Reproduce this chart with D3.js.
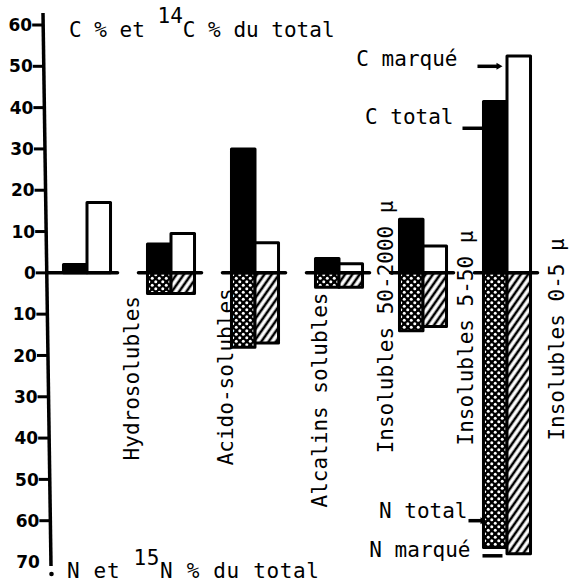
<!DOCTYPE html>
<html><head><meta charset="utf-8">
<script src="https://cdn.jsdelivr.net/npm/d3@7"></script>
<style>
body{margin:0;background:#fff}
text{font-family:"DejaVu Sans Mono",monospace;white-space:pre}
</style>
</head><body><svg id="c" width="570" height="585"></svg>
<script>
// ---- data ----
const categories = ["Hydrosolubles","Acido-solubles","Alcalins solubles","Insolubles 50-2000 µ","Insolubles 5-50 µ","Insolubles 0-5 µ"];
const cTotal  = [2, 7, 30, 3.5, 13, 41.5];   // C total (%)
const cMarque = [17, 9.5, 7.3, 2.2, 6.5, 52.5]; // 14C marqué (%)
const nTotal  = [0, 5, 18, 3.5, 14, 66.5];    // N total (%)
const nMarque = [0, 5, 17, 3.5, 13, 68];      // 15N marqué (%)
const tickValues = [60,50,40,30,20,10,0,-10,-20,-30,-40,-50,-60,-70];

// ---- layout (pixel / axis-unit placement of labels) ----
const labelDx = [28, 38, 48, 30, 26, 33];
const labelBottom = [-45.4, -46.6, -56.8, -43.7, -41.8, -40.6];

const svg = d3.select("#c");
const y = d3.scaleLinear().domain([-70, 60]).range([562, 25]);
const x = d3.scaleBand().domain(categories).range([45, 549]).paddingInner(0.44).paddingOuter(0.22);
const xs = d3.scaleBand().domain(["a","b"]).range([0, x.bandwidth()]);
const axisX = py => 43 + (py - 13) / (566 - 13) * 8;

// patterns
const defs = svg.append("defs");
const pd = defs.append("pattern").attr("id","dots").attr("patternUnits","userSpaceOnUse").attr("width",7).attr("height",7);
pd.append("rect").attr("width",7).attr("height",7).attr("fill","#000");
pd.append("circle").attr("cx",1.75).attr("cy",1.75).attr("r",1.5).attr("fill","#fff");
pd.append("circle").attr("cx",5.25).attr("cy",5.25).attr("r",1.5).attr("fill","#fff");
const ph = defs.append("pattern").attr("id","hatch").attr("patternUnits","userSpaceOnUse").attr("width",6).attr("height",6).attr("patternTransform","rotate(35)");
ph.append("rect").attr("width",6).attr("height",6).attr("fill","#fff");
ph.append("line").attr("x1",2).attr("y1",-1).attr("x2",2).attr("y2",7).attr("stroke","#000").attr("stroke-width",2.6);

// bars
const bars = [];
categories.forEach((c, i) => {
  bars.push({c, sub:"a", v: cTotal[i], fill:"#000"});
  bars.push({c, sub:"b", v: cMarque[i], fill:"#fff"});
  if (nTotal[i] > 0) bars.push({c, sub:"a", v: -nTotal[i], fill:"url(#dots)"});
  if (nMarque[i] > 0) bars.push({c, sub:"b", v: -nMarque[i], fill:"url(#hatch)"});
});
svg.append("g").selectAll("rect").data(bars).join("rect")
  .attr("x", d => x(d.c) + xs(d.sub))
  .attr("y", d => y(Math.max(0, d.v)))
  .attr("width", xs.bandwidth())
  .attr("height", d => Math.abs(y(d.v) - y(0)))
  .attr("fill", d => d.fill)
  .attr("stroke", "#000").attr("stroke-width", 3).attr("stroke-linejoin","round");

// zero baselines per group
svg.append("g").selectAll("line").data(categories).join("line")
  .attr("x1", (d, i) => i === 0 ? axisX(y(0)) : x(d) - 9)
  .attr("x2", d => x(d) + x.bandwidth() + 7)
  .attr("y1", y(0)).attr("y2", y(0))
  .attr("stroke", "#000").attr("stroke-width", 3.5).attr("stroke-linecap","round");

// y axis
svg.append("line").attr("x1", 43).attr("y1", 13).attr("x2", 51).attr("y2", 566)
  .attr("stroke", "#000").attr("stroke-width", 3.5);
svg.append("circle").attr("cx", 51.5).attr("cy", 574).attr("r", 2.3).attr("fill", "#000");
const ticks = svg.append("g");
ticks.selectAll("line").data(tickValues.filter(d => d !== -70)).join("line")
  .attr("x1", d => axisX(y(d)) - 11).attr("x2", d => axisX(y(d)))
  .attr("y1", d => y(d)).attr("y2", d => y(d))
  .attr("stroke", "#000").attr("stroke-width", 3);
ticks.selectAll("text").data(tickValues).join("text")
  .attr("x", d => axisX(y(d)) - 11).attr("y", d => y(d)).attr("dy", "0.36em")
  .attr("text-anchor", "end")
  .style("font-family", "'DejaVu Sans',sans-serif").style("font-weight", "bold").style("font-size", "17px")
  .text(d => Math.abs(d));

// category labels (rotated)
svg.append("g").selectAll("text").data(categories).join("text")
  .attr("transform", (d, i) => `translate(${x(d) + x.bandwidth() + labelDx[i]},${y(labelBottom[i])}) rotate(-90)`)
  .attr("text-anchor", "start").style("font-size", "21px")
  .text(d => d);

// titles
const t1 = svg.append("text").attr("x", 69).attr("y", 37).style("font-size", "21px");
t1.append("tspan").text("C % et ");
t1.append("tspan").attr("dy", -14).text("14");
t1.append("tspan").attr("dy", 14).text("C % du total");
const t2 = svg.append("text").attr("x", 67).attr("y", 578).style("font-size", "21px").attr("textLength", 252);
t2.append("tspan").text("N et ");
t2.append("tspan").attr("dy", -13).text("15");
t2.append("tspan").attr("dy", 13).text("N % du total");

// annotations near the last group
const last = categories[categories.length - 1];
const gx = x(last);
const ann = [
  {t:"C marqué", v:50, dx:-26, lx1:-6, lx2:15, lv:50, arrow:true},
  {t:"C total", v:36, dx:-30, lx1:-21, lx2:-1, lv:35, arrow:false},
  {t:"N total", v:-59.3, dx:-16, lx1:-15, lx2:-1, lv:-60, arrow:true},
  {t:"N marqué", v:-68.7, dx:-13, lx1:-1, lx2:19, lv:-68.5, arrow:false}
];
const ag = svg.append("g");
ann.forEach(a => {
  ag.append("text").attr("x", gx + a.dx).attr("y", y(a.v)).attr("text-anchor", "end").style("font-size", "21px").text(a.t);
  ag.append("line").attr("x1", gx + a.lx1).attr("x2", gx + a.lx2).attr("y1", y(a.lv)).attr("y2", y(a.lv))
    .attr("stroke", "#000").attr("stroke-width", 3.5);
  if (a.arrow) {
    const ex = gx + a.lx2, ey = y(a.lv);
    ag.append("path").attr("d", `M${ex-2},${ey-3.5}L${ex+4},${ey}L${ex-2},${ey+3.5}Z`).attr("fill", "#000");
  }
});
</script>
</body></html>
